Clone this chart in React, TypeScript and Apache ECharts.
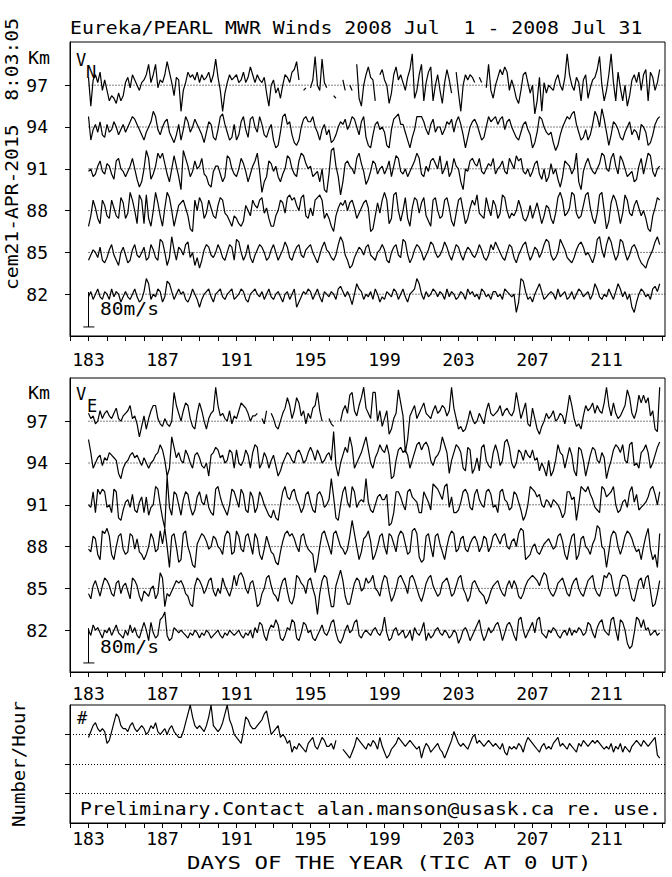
import { useEffect, useRef } from "react";
import * as echarts from "echarts";

// ---------- texts ----------
const TITLE = "Eureka/PEARL MWR Winds 2008 Jul  1 - 2008 Jul 31";
const STAMP = "cem21-APR-2015  8:03:05";
const NOTE = "Preliminary.Contact alan.manson@usask.ca re. use.";
const X_TITLE = "DAYS OF THE YEAR (TIC AT 0 UT)";
const COUNT_TITLE = "Number/Hour";
const SCALE_TEXT = "80m/s";

// ---------- axes ----------
const HEIGHTS_KM = [97, 94, 91, 88, 85, 82];
const DAY_LABELS = [183, 187, 191, 195, 199, 203, 207, 211];
const DAY_TICKS = [182, 183, 184, 185, 186, 187, 188, 189, 190, 191, 192, 193, 194, 195, 196, 197, 198, 199, 200, 201, 202, 203, 204, 205, 206, 207, 208, 209, 210, 211, 212, 213, 214];
const COUNT_TICKS = [1, 2, 3];

// ---------- data encoding ----------
// samples every 3 h from day 183.0; one letter per sample,
// 'm' = 0 m/s, each letter step = 6 m/s; '.' = missing
const FIRST_DAY = 183;
const SAMPLES_PER_DAY = 8;
const WIND_STEP_MS = 6;
const SCALE_BAR_MS = 80;
const KM_PER_MS = 2.5 / 80;

// Meridional wind V_N
const VN_97 = "peoqnrko kgihfjgi nplqomkn oqunqulo nqvrnipo cknrpqor nqoprnqw pkcjnqop qnornptq nqonpjem ojlhmqpn rsvo.kl. loxmkwnl ..ih..ok .mk.uhem qtpog.qs omfjqtoq nkpsyhkq ugnrtgmq kfnsoj.r jcmqoqpn .pn.lukh mpsqtrko lhfkqrnj mbgpcnjm lkoqmkpy qmkpngoq hlopsxmg kqyngrlg meioqnrk qsgrpkns";
const VN_94 = "qhlnkoji nklomjln kmoqpnlj hkmosqlj mopkigjn hlqokmpn ljgkonih lqrnkhin hjoqlipq mkqnjiln hefkqrno jgfhmpqo oqmkhlnj lghjmonp lnqpmjoq ifejnolm kfelpqrn nkheilqq qoljnpkm mjlonpko qnjeimop nkhimqop qnpqlopm kihknolj egkqpmkj kgdfjmoq prsnkhil hjnsqmtp kfjonlih kmojlkhn mkfgjnpq";
const VN_91 = "lmjknplk onkipqml jlnqmifh mtqiknsq sokhmrnj etqnjlpm nqkjgfln nkhjrqmk jmqolhkn psldhjpo lnjhkmrq mkjpsrom njklhmed ktunjcho pnmkqsol gilpokmn kmpjnrql kmjlnpsq kjnlpqom rkmpjlqn mhemlpqo nqlkmonq kmnplkqo mrpqlkmj lopkimhj okmifjpo nkmshelo qnlkmosr mlqsnkrp mjklhinq kosrljmn";
const VN_88 = "gkqnjhqo kjqnkjrp jltqmhsq hsjgmtpk gntrmgko pqnkfeqm rpjlqnkj orqlkigk jhgiomkq onqrlnjg gkmqplrs qromrskj nkqrsqjl jgeknpoq mpqnjlnp qnefkplq tqhjstmi mrjgnrql prkigqrm jkqrnigl qrmhjnqo slkjrnkq ojlsrmjl kmqnjiko jmplhkon jhlrtqkl ntsljkos tnjhlstm fipsqmhl sqlkoqnk mjfeknrq";
const VN_85 = "jlnmkoji knpljhmo lijnplkm ojkpnkjr qmhksnjo nlpqkmhk gjnpolkm pnkjmpoj rqmjlpki lnpomjkn pmjlnqok jmoplkno pmkiloqn mkjlpsql jghkmonl oplkjmnp njimoplk rqliknpo mjlnqpmk lnqoljmp oljmonlk mpnkjlpn qomkjmpo kilnpqmj lonkmprq ljkmrpnk jiknpqol mkilrsnk psqmjlrq mjlopnki hgjlnqsp";
const VN_82 = "lnkmolkn mkolnmjl nlkmoljk nsqkmlon jlrqnkmo mnkjlomk hkmnoljm nolkmnok lmonkjmn omlnkmol kmnljmnk mohjlnmo nkmoljnm lnmkopnl nlimqonk mlnkomjl knmlonkm oljmnosq mknlmonl nmkolnmk lnmkomnl mkonlmkn nlmkonml mfjsrnkl jmoqnklm nmkolmnk lnkmonlm nkmqolkm lomknqol nkmhfjmo nlmkopnq";

// Zonal wind V_E
const VE_97 = "pnolmqnp qonprnmo pqsnolgk ojnqssnl knlkmxsp mqtsnkjp tqmjnpqz sopnmqlo nqtsrpmo op.nlq.p nkjmprvs nqvtoqlp nrsxqm.. nlk..mqs pwxqosvz rpnxxmqk nqhjnpyt oafoqsnp rtponqsp qsroqzrn jkijmqnl mpnlqtpo pqsoqrpo qxsnqtlk rnjhkmpn oqmnpolq wsnkljos qrtpsqpt zsotpnoq syvpnqwt wtvoqjiz";
const VE_94 = "vqkmoplo nqponigk mnpqopnl omkmnpqt rnhkwsoq nmrpmkpq olkmhpqs ropmnrqk rmlnrpkq tskmqokn plhjmoqp nmqrpmnq sqnrpmnp qnylhmps qwskmoqt wrmkoqtr qtpghnrs qrpknqtu rtusnlop rwtqinqt sqkjsrik ojstnlkq tqlnuvsm kmrqnrpo rnojmkhn hjntqpko spjhsrnh lpsrnmqo gknrtsqt nmtulmkq rtqkmpsu";
const VE_91 = "mlrjsqsr lmjsrhgk nolqkjnp jpilmtsm hdxlirqm iorqlikp rnmqljis tpmkimsr olsqkjrp jlrpmkih khgmrtpo rsomjlqr nkjqrplm owphgmrt nltrlnon wnkjmpqo oqefjrrp mkrsponj jrpnkuts qotulpjj knrsqlkq somlrsql mjrsonkl rqnkgimt srpqmlon lonmkhjr ropgmtsr tqolkjts pqrtmjkn olrtnqkl mnpstqmr";
const VE_88 = "lkqpjhsr tqjhmqrl jkrqlpkj hjmrpkls ntmeqrmg hrsmjfen prqolmqp mljqsrjk sqlkqrnj rpjhlqnk jgfkorsq rpmkqrnl kjcgmrsp mjrspmlj lqwrmhkp qsohjmqr mjrqnkqs rnjkstri ghqrmiqr nkhmqsrk lpqlknpq okmqpkmq rpnqrmlo pmrtshij mnkjlnop nlmqrojh mqrhjpqm ljnputml ekqsrmjm qsrpmklh mqtlhjer";
const VE_85 = "kinpmjnq pnkjopkn oliqpnjh lkjmniks qfkjlnpo pnkjgfnq pnkmpqlj mkqnljmr nrsqmkop lfgkmqrn kjhmpqlh gjrqonkp qmjckprq kffnqtpj ggkoqplm qoprmljo rqlhjmqr pnkqrpmj hkoqrnlj kopqnjkn qrmkhjop nlkjgiln opmkjnpm pnjiknpq rqpnqsrm kjlopqnk jnpqmkjm pqrmkjmr qsrmjkpr rqmihlpq mqrlfgkp";
const VE_82 = "mkomnljm lnkmolkj mkolnkjm pmipljkq rtkijnml mlkjlkml jlkmljkl mkjlkmlk lmkjlkmj nlpokimo nqojiknm qpjilpol mjikmolk mpqlihjm olmpqkjl mlkmnlkm rlijmnkl mjkminlk mpiljkmn lkmljkml hjmnlikm oqliknlm opmilopn kiqrmjln plqrlkjm lnmkjlmk nkmlnmkl poljnpqm lkqrmiqp mhfglrqn qmnklmkl";

// Number of meteors per hour (letter 'a' = 1.5, step 0.1)
const COUNT = "oqstrqrq mnqtwvsr rqstrqrs rpqsrtqp qrprsqpo oqtwzvsr srqsvzsr qrtwzusp onmqvusr rstuwxtp qrsopomn jlkmlkjm nolkmonl lmkn..kj ihjlonml kmlnmkol jhiklmon mlmnmlkl hkmljklm kjhjlnqo mlmlkmop mnmlmnml mlkmjilk lkmljmon mlkjlmkl kmnolmlk mlkjmlnm lmnmnmlk lkmjlkmj lkjlmnml nmlmnoih";

const VN_SERIES = [VN_97, VN_94, VN_91, VN_88, VN_85, VN_82];
const VE_SERIES = [VE_97, VE_94, VE_91, VE_88, VE_85, VE_82];

const FONT = '"DejaVu Sans Mono", "Liberation Mono", monospace';

function decode(codes: string, zero: number, step: number): (number | null)[] {
  return codes
    .replace(/\s+/g, "")
    .split("")
    .map((c) => (c === "." ? null : (c.charCodeAt(0) - zero) * step));
}

function dayOf(i: number) {
  return FIRST_DAY + i / SAMPLES_PER_DAY;
}

function fitScale(text: string, width: number, fs: number) {
  return width / (text.length * 0.602 * fs);
}

function txt(text: string, x: number, y: number, fs: number, width?: number, rotation = 0, align = "left") {
  return {
    type: "text",
    x,
    y,
    rotation,
    scaleX: width ? fitScale(text, width, fs) : 1,
    silent: true,
    z: 10,
    style: {
      text,
      fill: "#000",
      font: `${fs}px ${FONT}`,
      textAlign: align,
      textVerticalAlign: "middle",
      align,
      verticalAlign: "middle",
    },
  };
}

export default function App() {
  const ref = useRef<HTMLDivElement>(null);

  useEffect(() => {
    if (!ref.current) return;
    const chart = echarts.init(ref.current, null, { renderer: "svg" });

    const X_MAX = 182 + 595 / 18.5;
    const lineBase = {
      type: "line",
      showSymbol: false,
      symbol: "none",
      connectNulls: false,
      silent: true,
      animation: false,
      lineStyle: { color: "#000", width: 1.2 },
    };

    const series: any[] = [];
    const addWind = (codes: string, km: number, g: number) => {
      const ms = decode(codes, 109, WIND_STEP_MS);
      series.push({
        ...lineBase,
        xAxisIndex: g,
        yAxisIndex: g,
        z: 3,
        data: ms.map((v, i) => [dayOf(i), v == null ? "-" : km + v * KM_PER_MS]),
      });
      // dotted zero line for this height
      series.push({
        ...lineBase,
        xAxisIndex: g,
        yAxisIndex: g,
        z: 2,
        lineStyle: { color: "#000", width: 1, type: [1, 2] },
        data: [
          [FIRST_DAY, km],
          [X_MAX, km],
        ],
      });
    };
    VN_SERIES.forEach((s, k) => addWind(s, HEIGHTS_KM[k], 0));
    VE_SERIES.forEach((s, k) => addWind(s, HEIGHTS_KM[k], 1));

    // 80 m/s scale bars
    const barTop = 82.15;
    const barBottom = barTop - SCALE_BAR_MS * KM_PER_MS;
    [0, 1].forEach((g) => {
      series.push({
        ...lineBase,
        lineStyle: { color: "#000", width: 1 },
        xAxisIndex: g,
        yAxisIndex: g,
        data: [
          [FIRST_DAY, barTop],
          [FIRST_DAY, barBottom],
        ],
      });
      series.push({
        ...lineBase,
        lineStyle: { color: "#000", width: 1 },
        xAxisIndex: g,
        yAxisIndex: g,
        data: [
          [FIRST_DAY - 0.28, barBottom],
          [FIRST_DAY + 0.32, barBottom],
        ],
      });
    });

    const counts = decode(COUNT, 97, 0.1);
    series.push({
      ...lineBase,
      xAxisIndex: 2,
      yAxisIndex: 2,
      data: counts.map((v, i) => [dayOf(i), v == null ? "-" : 1.5 + v]),
    });

    const labelStyle = { color: "#000", fontFamily: FONT, fontSize: 18 };
    const xAxis = [14, 12, 6.5].map((margin, g) => ({
      type: "value",
      gridIndex: g,
      min: 182,
      max: X_MAX,
      axisLine: { show: true, lineStyle: { color: "#000", width: 1 } },
      axisTick: { show: true, inside: false, length: 5, customValues: DAY_TICKS, lineStyle: { color: "#000", width: 1 } },
      axisLabel: { show: true, margin, customValues: DAY_LABELS, ...labelStyle },
      splitLine: { show: false },
    }));

    const yAxis: any[] = [0, 1].map((g) => ({
      type: "value",
      gridIndex: g,
      min: 79,
      max: 100.1,
      axisLine: { show: true, lineStyle: { color: "#000", width: 1 } },
      axisTick: { show: true, inside: false, length: 5, customValues: HEIGHTS_KM, lineStyle: { color: "#000", width: 1 } },
      axisLabel: { show: true, margin: 22, customValues: HEIGHTS_KM, ...labelStyle },
      splitLine: { show: false },
    }));
    yAxis.push({
      type: "value",
      gridIndex: 2,
      min: 0,
      max: 4,
      interval: 1,
      axisLine: { show: true, lineStyle: { color: "#000", width: 1 } },
      axisTick: { show: true, inside: false, length: 5, customValues: COUNT_TICKS, lineStyle: { color: "#000", width: 1 } },
      axisLabel: { show: false },
      splitLine: { show: true, lineStyle: { color: "#000", width: 1, type: [1, 2] } },
    });

    const gridBase = { left: 70, width: 595, show: true, borderColor: "#000", borderWidth: 1, backgroundColor: "transparent" };

    chart.setOption({
      animation: false,
      backgroundColor: "#fff",
      grid: [
        { ...gridBase, top: 42, height: 294 },
        { ...gridBase, top: 378, height: 294 },
        { ...gridBase, top: 705, height: 118 },
      ],
      xAxis,
      yAxis,
      series,
      graphic: [
        txt(TITLE, 70, 28, 17, 573),
        txt(STAMP, 11.5, 154, 17, 272, Math.PI / 2, "center"),
        txt("Km", 28, 58, 17, 22),
        txt("Km", 28, 393, 17, 22),
        txt("V", 76, 60, 17),
        txt("N", 86, 72, 17),
        txt("V", 76, 394, 17),
        txt("E", 87, 406, 17),
        txt(SCALE_TEXT, 100, 309, 17, 59),
        txt(SCALE_TEXT, 100, 647, 17, 59),
        txt("#", 77, 718, 17),
        txt(NOTE, 80, 808.5, 17, 581),
        txt(COUNT_TITLE, 19, 764, 17, 126, Math.PI / 2, "center"),
        txt(X_TITLE, 187, 863.5, 17, 405),
      ],
    });

    return () => chart.dispose();
  }, []);

  return (
    <div
      ref={ref}
      style={{ position: "fixed", left: 0, top: 0, width: 672, height: 877, background: "#fff" }}
    />
  );
}
